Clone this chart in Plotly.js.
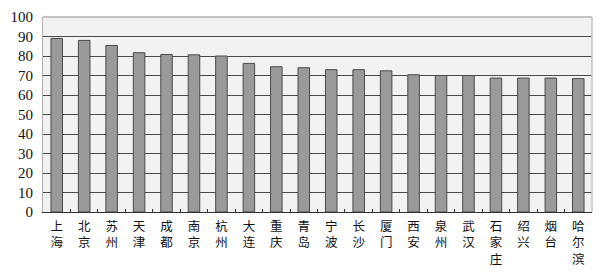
<!DOCTYPE html>
<html>
<head>
<meta charset="utf-8">
<script src="https://cdn.plot.ly/plotly-3.0.1.min.js"></script>
<style>
  html, body { margin: 0; padding: 0; background: #fff; }
  #chart { width: 601px; height: 274px; }
</style>
</head>
<body>
<div id="chart"></div>
<script>
// City names (x categories) and their index values
const cities = ["上海", "北京", "苏州", "天津", "成都", "南京", "杭州", "大连", "重庆", "青岛",
                "宁波", "长沙", "厦门", "西安", "泉州", "武汉", "石家庄", "绍兴", "烟台", "哈尔滨"];
const scores = [89.0, 88.0, 85.4, 81.7, 80.8, 80.6, 80.0, 76.2, 74.5, 74.0,
                73.0, 73.0, 72.4, 70.4, 70.0, 70.0, 68.7, 68.7, 68.7, 68.4];
const yTicks = [0, 10, 20, 30, 40, 50, 60, 70, 80, 90, 100];

// City names are written top-to-bottom, one character per line
const cityLabels = cities.map(function (name) { return Array.from(name).join('<br>'); });

const trace = {
  type: 'bar',
  x: cities,
  y: scores,
  width: 0.42,
  marker: { color: '#9a9a9a', line: { color: '#4a4a4a', width: 1 } },
  hoverinfo: 'x+y'
};

const layout = {
  width: 601, height: 274,
  margin: { l: 43, r: 9, t: 17, b: 62, pad: 0 },
  paper_bgcolor: '#ffffff',
  plot_bgcolor: '#f2f2f2',
  showlegend: false,
  xaxis: {
    type: 'category',
    tickmode: 'array', tickvals: cities, ticktext: cityLabels,
    tickfont: { family: 'Noto Sans CJK SC, sans-serif', size: 12.5, color: '#111' },
    tickangle: 0,
    ticks: 'inside', ticklen: 3, tickcolor: '#333', tickwidth: 1,
    tickson: 'boundaries',
    ticklabelstandoff: 3,
    showgrid: false,
    showline: true, linecolor: '#333', linewidth: 1,
    zeroline: false,
    fixedrange: true
  },
  yaxis: {
    range: [0, 100],
    tickmode: 'array', tickvals: yTicks, ticktext: yTicks.map(String),
    tickfont: { family: 'Liberation Serif, serif', size: 15, color: '#111' },
    ticks: '', ticklabelstandoff: 6,
    showgrid: true, gridcolor: '#4a4a4a', gridwidth: 1,
    zeroline: false,
    showline: true, linecolor: '#b0b0b0', linewidth: 1,
    fixedrange: true
  },
  shapes: [
    // light frame along the top and right of the plot area
    { type: 'line', xref: 'paper', yref: 'paper', x0: 0, x1: 1, y0: 1, y1: 1,
      line: { color: '#c4c4c4', width: 2 }, layer: 'above' },
    { type: 'line', xref: 'paper', yref: 'paper', x0: 1, x1: 1, y0: 0, y1: 1,
      line: { color: '#c4c4c4', width: 1.5 }, layer: 'above' }
  ]
};

Plotly.newPlot('chart', [trace], layout, { staticPlot: true, displayModeBar: false });
</script>
</body>
</html>
